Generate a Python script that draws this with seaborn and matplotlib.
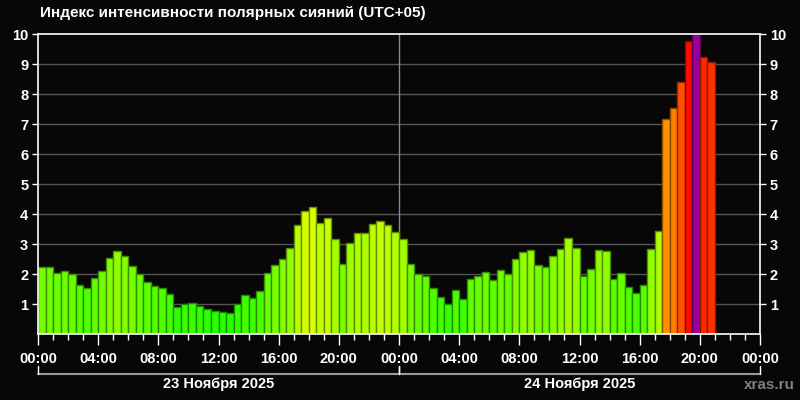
import colorsys
import numpy as np
import pandas as pd
import matplotlib
matplotlib.use('Agg')
import matplotlib.pyplot as plt
import seaborn as sns

# Получасовые значения индекса, начиная с 23.11.2025 00:00 (UTC+05)
day1_values = [2.24, 2.22, 2.04, 2.10, 2.00, 1.64, 1.54, 1.88, 2.10, 2.53, 2.78, 2.60,
               2.28, 2.00, 1.74, 1.60, 1.54, 1.33, 0.91, 1.01, 1.04, 0.95, 0.84, 0.78,
               0.73, 0.71, 1.01, 1.30, 1.21, 1.43, 2.04, 2.31, 2.50, 2.87, 3.64, 4.10,
               4.24, 3.70, 3.88, 3.18, 2.33, 3.03, 3.37, 3.38, 3.68, 3.78, 3.64, 3.41]
day2_values = [3.17, 2.33, 2.01, 1.93, 1.53, 1.24, 1.01, 1.47, 1.18, 1.84, 1.94, 2.07,
               1.81, 2.13, 2.00, 2.50, 2.74, 2.81, 2.31, 2.23, 2.60, 2.83, 3.20, 2.88,
               1.93, 2.18, 2.81, 2.78, 1.82, 2.02, 1.57, 1.37, 1.62, 2.83, 3.42, 7.17,
               7.52, 8.39, 9.77, 10.0, 9.22, 9.06]
day_labels = ['23 Ноября 2025', '24 Ноября 2025']
title = 'Индекс интенсивности полярных сияний (UTC+05)'

values = day1_values + day2_values
hours = np.arange(len(values)) * 0.5 + 0.25
df = pd.DataFrame({'hour': hours, 'value': values})


def bar_color(v):
    # зелёный -> жёлтый -> красный, максимум - фиолетовый
    if v >= 10:
        return (0.6, 0.0, 0.6)
    h = 120 * (1 - v / 10) / 360
    return colorsys.hsv_to_rgb(h, 1.0, 1.0)


bg = '#070708'
sns.set_theme(style='dark', rc={'axes.facecolor': bg, 'figure.facecolor': bg})
plt.rcParams['font.family'] = ['Liberation Sans', 'DejaVu Sans']

fig = plt.figure(figsize=(8, 4), dpi=100)
ax = fig.add_axes([0.0475, 0.165, 0.9025, 0.75])

sns.barplot(data=df, x='hour', y='value', native_scale=True, width=1,
            color='#66ff00', ax=ax, errorbar=None, zorder=2)
for patch, v in zip(ax.patches, values):
    c = bar_color(v)
    patch.set_facecolor(c)
    patch.set_edgecolor(tuple(x * 0.55 for x in c))
    patch.set_linewidth(1.0)

ax.set_xlim(0, 48)
ax.set_ylim(0, 10)
ax.set_xlabel('')
ax.set_ylabel('')

# сетка
for y in range(1, 10):
    ax.axhline(y, color='#555555', lw=1, zorder=1)
ax.axvline(24, color='#888888', lw=1, zorder=1)
ax.grid(False)

for s in ax.spines.values():
    s.set_color('white')
    s.set_linewidth(1.2)
    s.set_visible(True)
    s.set_zorder(4)

ax.set_yticks(range(1, 11))
ax.set_yticklabels([str(i) for i in range(1, 11)])
ax.tick_params(axis='y', which='both', left=True, right=True, labelleft=True,
               labelright=True, colors='white', length=4, width=1, direction='out',
               labelsize=10.5, pad=3)
for t in ax.get_yticklabels():
    t.set_fontweight('bold')

ax.set_xticks(range(0, 49, 4))
ax.set_xticklabels(['%02d:00' % (h % 24) for h in range(0, 49, 4)])
ax.set_xticks(range(0, 49), minor=True)
ax.tick_params(axis='x', which='major', bottom=True, colors='white', length=8,
               width=1, direction='out', labelsize=10.5, pad=5)
ax.tick_params(axis='x', which='minor', bottom=True, colors='white', length=4,
               width=1, direction='out')
for t in ax.get_xticklabels():
    t.set_fontweight('bold')

# подписи дней
tr = ax.get_xaxis_transform()
for i, lab in enumerate(day_labels):
    x0, x1 = i * 24, (i + 1) * 24
    ax.plot([x0, x1], [-0.132, -0.132], color='#999999', lw=1.5,
            transform=tr, clip_on=False)
    ax.plot([x0, x0], [-0.132, -0.108], color='white', lw=1,
            transform=tr, clip_on=False)
    ax.plot([x1, x1], [-0.132, -0.108], color='white', lw=1,
            transform=tr, clip_on=False)
    ax.text((x0 + x1) / 2, -0.167, lab, transform=tr, ha='center', va='center',
            color='white', fontsize=10.5, fontweight='bold')

fig.text(0.05, 0.967, title, color='white', fontsize=11, fontweight='bold',
         ha='left', va='center')
fig.text(0.962, 0.038, 'xras.ru', color='#808080', fontsize=11, fontweight='bold',
         ha='center', va='center')

fig.savefig('out.png', dpi=100, facecolor=bg)
